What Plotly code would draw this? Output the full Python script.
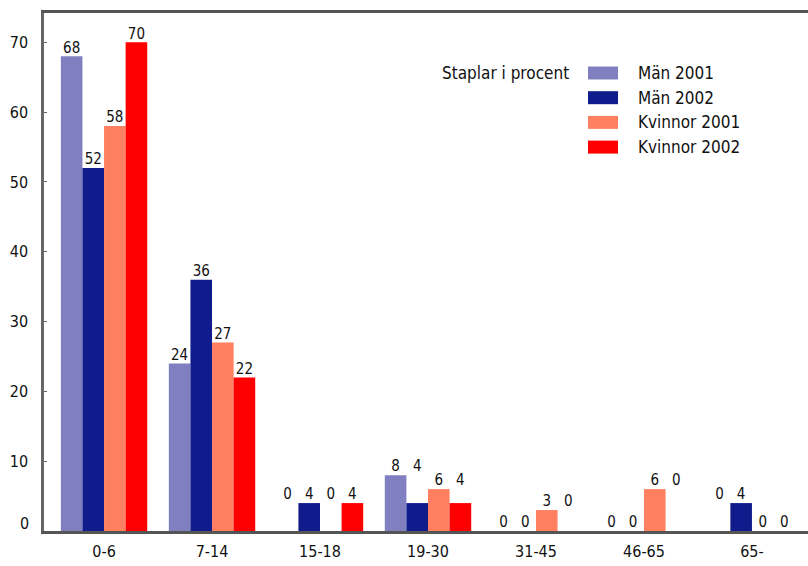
import plotly.graph_objects as go

# Age groups and share of patients per group (percent)
age_groups = ["0-6", "7-14", "15-18", "19-30", "31-45", "46-65", "65-"]
man_2001 = [68, 24, 0, 8, 0, 0, 0]
man_2002 = [52, 36, 4, 4, 0, 0, 4]
kvinnor_2001 = [58, 27, 0, 6, 3, 6, 0]
kvinnor_2002 = [70, 22, 4, 4, 0, 0, 0]

series_names = ["Män 2001", "Män 2002", "Kvinnor 2001", "Kvinnor 2002"]
series_values = [man_2001, man_2002, kvinnor_2001, kvinnor_2002]
series_colors = ["#8080C0", "#101C8C", "#FF8060", "#FF0000"]

y_ticks = [0, 10, 20, 30, 40, 50, 60, 70]

FONT = "DejaVu Sans Condensed, Liberation Sans Narrow, sans-serif"
W, H = 808, 566
M_L, M_R, M_T, M_B = 44, 0, 13, 35

fig = go.Figure()

for name, vals, col in zip(series_names, series_values, series_colors):
    fig.add_trace(go.Bar(
        x=age_groups, y=vals, name=name,
        marker=dict(color=col, line=dict(width=0)),
        showlegend=False,
    ))

# Value labels: small values share a row with their pair partner
# (Män 2001/2002, Kvinnor 2001/2002) so the digits line up.
pairs = [(0, 1), (2, 3)]
label_heights = [list(v) for v in series_values]
for a, b in pairs:
    for k in range(len(age_groups)):
        va, vb = series_values[a][k], series_values[b][k]
        if va < 10 and vb < 10:
            label_heights[a][k] = label_heights[b][k] = max(va, vb)

for name, vals, hts in zip(series_names, series_values, label_heights):
    fig.add_trace(go.Scatter(
        x=age_groups, y=hts, mode="text", text=[str(v) for v in vals],
        textposition="top center",
        textfont=dict(family=FONT, size=15, color="#111111"),
        showlegend=False, cliponaxis=False, hoverinfo="skip",
    ))

# Hand-built legend with wide swatches
pw = W - M_L - M_R
ph = H - M_T - M_B
def px_x(x):
    return (x - M_L) / pw
def px_y(y):
    return (H - M_B - y) / ph

annotations = [dict(
    x=px_x(440), y=px_y(73), xref="paper", yref="paper",
    text="Staplar i procent", showarrow=False, xanchor="left", yanchor="middle",
    font=dict(family=FONT, size=17, color="#111111"),
)]
shapes = []
for i, (name, col) in enumerate(zip(series_names, series_colors)):
    yc = 73 + i * 24.7
    shapes.append(dict(
        type="rect", xref="paper", yref="paper",
        x0=px_x(588), x1=px_x(618), y0=px_y(yc - 6.5), y1=px_y(yc + 6.5),
        fillcolor=col, line=dict(width=0),
    ))
    annotations.append(dict(
        x=px_x(636), y=px_y(yc), xref="paper", yref="paper",
        text=name, showarrow=False, xanchor="left", yanchor="middle",
        font=dict(family=FONT, size=17, color="#111111"),
    ))

# The zero label sits a little above the baseline
annotations.append(dict(
    x=0, y=0, xref="paper", yref="y", text=str(y_ticks[0]),
    showarrow=False, xanchor="right", yanchor="middle", xshift=-13, yshift=8,
    font=dict(family=FONT, size=16, color="#111111"),
))

fig.update_layout(
    width=W, height=H,
    margin=dict(l=M_L, r=M_R, t=M_T, b=M_B, pad=0),
    paper_bgcolor="white", plot_bgcolor="white",
    barmode="group", bargap=0.2, bargroupgap=0,
    scattermode="group", scattergap=0.2,
    font=dict(family=FONT, size=16, color="#111111"),
    shapes=shapes, annotations=annotations,
    showlegend=False,
)
fig.update_xaxes(
    range=[-0.556, 6.519], showgrid=False, zeroline=False,
    showline=True, linecolor="#555555", linewidth=2.5, mirror=True,
    ticks="", tickfont=dict(family=FONT, size=16, color="#111111"),
    ticklabelstandoff=4,
)
fig.update_yaxes(
    range=[0, 74.2], tickvals=y_ticks,
    ticktext=[""] + [str(v) for v in y_ticks[1:]],
    showgrid=False, zeroline=False,
    showline=True, linecolor="#666666", linewidth=2.5,
    ticks="inside", ticklen=3, tickcolor="#666666",
    tickfont=dict(family=FONT, size=16, color="#111111"),
    ticklabelstandoff=10,
)

fig.write_html("out.html")
